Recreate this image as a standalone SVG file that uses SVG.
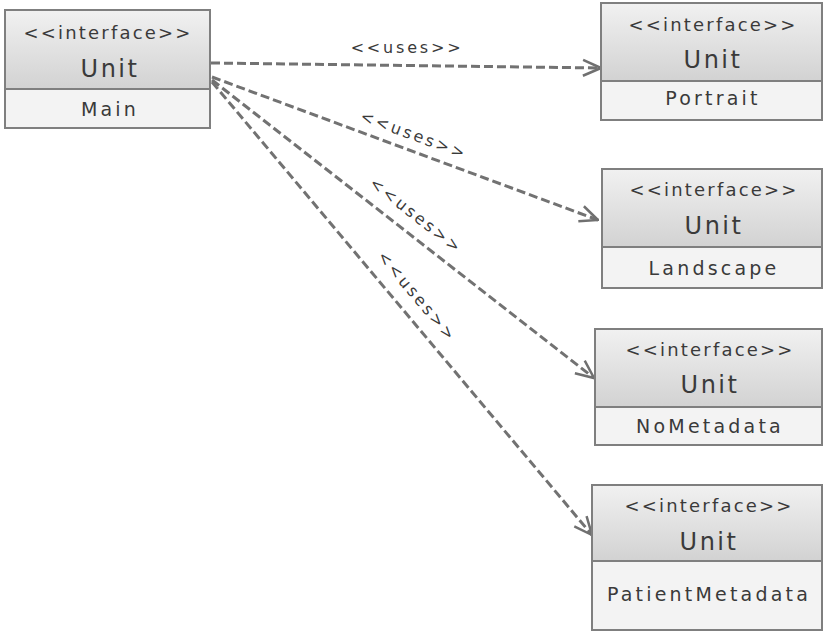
<svg xmlns="http://www.w3.org/2000/svg" width="825" height="631" viewBox="0 0 825 631">
<defs>
<linearGradient id="hdr" x1="0" y1="0" x2="0" y2="1">
<stop offset="0" stop-color="#f1f1f1"/>
<stop offset="1" stop-color="#d2d2d2"/>
</linearGradient>
<marker id="open" viewBox="0 0 20 20" refX="19" refY="10" markerWidth="20" markerHeight="20" markerUnits="userSpaceOnUse" orient="auto">
<path d="M1,2 L19,10 L1,18" fill="none" stroke="#707070" stroke-width="2.5"/>
</marker>
</defs>
<style>
.box{stroke:#7f7f7f;stroke-width:2}
.hd{fill:url(#hdr)}
.bd{fill:#f3f3f3}
text{font-family:"DejaVu Sans","Liberation Sans",sans-serif;fill:#3a3a3a;text-anchor:middle}
.st{font-size:18px;letter-spacing:2.2px}
.nm{font-size:24px;letter-spacing:2.5px}
.at{font-size:19px;letter-spacing:3.2px}
.lbl{font-size:16px;letter-spacing:2.8px}
.con{fill:none;stroke:#727272;stroke-width:3;stroke-dasharray:9,4;marker-end:url(#open)}
</style>
<rect width="825" height="631" fill="#fff"/>
<g id="connectors">
<path class="con" d="M211,63 L601,68"/>
<path class="con" d="M212,77 L598,220"/>
<path class="con" d="M212,80 L594,378"/>
<path class="con" d="M212,82 L592,535"/>
<text class="lbl" x="407" y="53">&lt;&lt;uses&gt;&gt;</text>
<text class="lbl" transform="translate(412,140) rotate(20.3)">&lt;&lt;uses&gt;&gt;</text>
<text class="lbl" transform="translate(413,220) rotate(38)">&lt;&lt;uses&gt;&gt;</text>
<text class="lbl" transform="translate(413,300) rotate(50)">&lt;&lt;uses&gt;&gt;</text>
</g>
<g id="main">
<rect class="box hd" x="5" y="10" width="205" height="79"/>
<rect class="box bd" x="5" y="89" width="205" height="39"/>
<text class="st" x="108" y="39">&lt;&lt;interface&gt;&gt;</text>
<text class="nm" x="110" y="77">Unit</text>
<text class="at" x="110" y="116">Main</text>
</g>
<g id="portrait">
<rect class="box hd" x="601" y="3" width="221" height="78"/>
<rect class="box bd" x="601" y="81" width="221" height="39"/>
<text class="st" x="713" y="31">&lt;&lt;interface&gt;&gt;</text>
<text class="nm" x="713" y="68">Unit</text>
<text class="at" x="713" y="105">Portrait</text>
</g>
<g id="landscape">
<rect class="box hd" x="602" y="169" width="220" height="78"/>
<rect class="box bd" x="602" y="247" width="220" height="41"/>
<text class="st" x="714" y="196">&lt;&lt;interface&gt;&gt;</text>
<text class="nm" x="714" y="234">Unit</text>
<text class="at" x="714" y="275">Landscape</text>
</g>
<g id="nometadata">
<rect class="box hd" x="595" y="329" width="227" height="78"/>
<rect class="box bd" x="595" y="407" width="227" height="38"/>
<text class="st" x="710" y="356">&lt;&lt;interface&gt;&gt;</text>
<text class="nm" x="710" y="393">Unit</text>
<text class="at" x="710" y="433">NoMetadata</text>
</g>
<g id="patientmetadata">
<rect class="box hd" x="592" y="485" width="230" height="76"/>
<rect class="box bd" x="592" y="561" width="230" height="69"/>
<text class="st" x="709" y="512">&lt;&lt;interface&gt;&gt;</text>
<text class="nm" x="709" y="550">Unit</text>
<text class="at" x="709" y="601">PatientMetadata</text>
</g>
</svg>
